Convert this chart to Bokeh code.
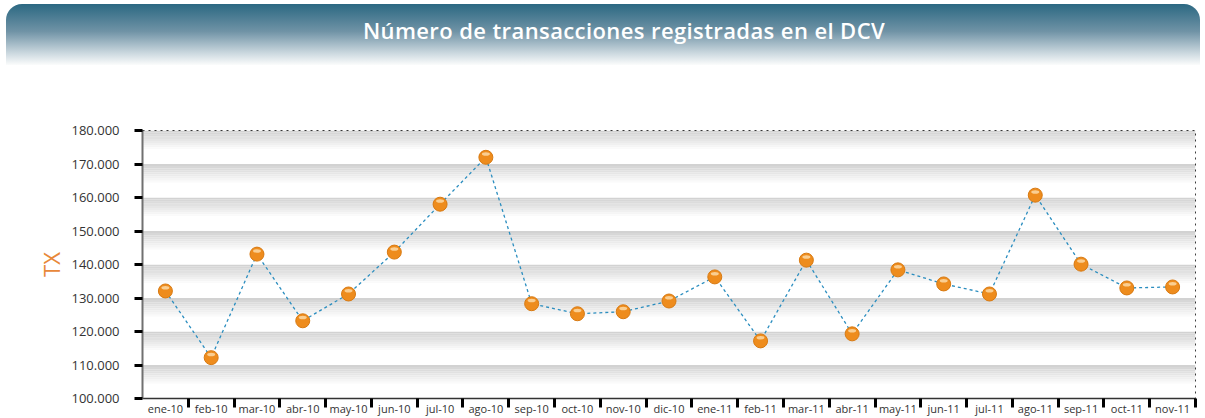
from bokeh.plotting import figure
from bokeh.layouts import column
from bokeh.models import Range1d, FixedTicker, CustomJSTickFormatter, ColumnDataSource, Div
from bokeh.core.properties import value
from bokeh.embed import file_html
from bokeh.resources import INLINE

# ---- data ----
months = ["ene-10", "feb-10", "mar-10", "abr-10", "may-10", "jun-10", "jul-10", "ago-10",
          "sep-10", "oct-10", "nov-10", "dic-10", "ene-11", "feb-11", "mar-11", "abr-11",
          "may-11", "jun-11", "jul-11", "ago-11", "sep-11", "oct-11", "nov-11"]
tx = [132100, 112200, 143100, 123200, 131200, 143700, 158000, 172000,
      128300, 125300, 125900, 129100, 136300, 117200, 141300, 119300,
      138400, 134200, 131200, 160700, 140100, 133000, 133300]
y_ticks = [100000, 110000, 120000, 130000, 140000, 150000, 160000, 170000, 180000]
title_text = "Número de transacciones registradas en el DCV"
y_label = "TX"

FONT = "Open Sans"
W = 1200
CH = 348


def hex2rgb(h):
    h = h.lstrip("#")
    return tuple(int(h[i:i + 2], 16) for i in (0, 2, 4))


def lerp_color(stops, t):
    for (t0, c0), (t1, c1) in zip(stops[:-1], stops[1:]):
        if t <= t1:
            f = 0 if t1 == t0 else (t - t0) / (t1 - t0)
            a, b = hex2rgb(c0), hex2rgb(c1)
            return "#%02x%02x%02x" % tuple(int(round(a[i] + (b[i] - a[i]) * f)) for i in range(3))
    return stops[-1][1]


# ---- banner ----
banner = Div(text=title_text, width=1194, height=61, margin=(4, 0, 5, 6),
             styles={
                 "background": "linear-gradient(180deg, #2b6882 0%, #7093a6 45%, #cad7de 80%, #fbfcfc 100%)",
                 "border-radius": "16px 16px 0 0",
                 "color": "white",
                 "font-family": "Open Sans",
                 "font-size": "22px",
                 "font-weight": "600",
                 "letter-spacing": "0.4px",
                 "text-align": "center",
                 "line-height": "52px",
                 "padding-left": "42px",
                 "box-sizing": "border-box",
             })

# ---- chart ----
n = len(months)
xs = [i + 0.5 for i in range(n)]
p = figure(width=W, height=CH, output_backend="svg", toolbar_location=None,
           x_range=Range1d(0, n), y_range=Range1d(y_ticks[0], y_ticks[-1]),
           min_border_left=142, min_border_right=5, min_border_top=60,
           min_border_bottom=10)
p.background_fill_color = "white"
p.border_fill_color = "white"
p.grid.visible = False
p.outline_line_color = "black"
p.outline_line_dash = "dotted"
p.outline_line_width = 1

# banded gradient background
gstops = [(0.0, "#d2d2d2"), (0.15, "#dddddd"), (0.6, "#ffffff"), (1.0, "#ffffff")]
bl, br, bt, bb, bc = [], [], [], [], []
steps = 16
for lo, hi in zip(y_ticks[:-1], y_ticks[1:]):
    h = (hi - lo) / steps
    for k in range(steps):
        t = k / (steps - 1)
        bl.append(0)
        br.append(n)
        bt.append(hi - k * h)
        bb.append(hi - (k + 1) * h)
        bc.append(lerp_color(gstops, t))
p.quad(left=bl, right=br, top=bt, bottom=bb, fill_color=bc, line_color=None)

src = ColumnDataSource(dict(x=xs, y=tx))
p.line("x", "y", source=src, line_color="#2a8dbf", line_width=1.3, line_dash="3 3")
p.scatter("x", "y", source=src, size=14, fill_color="#ee8c1d", line_color="#d87a12", line_width=1)
px_per_unit = (y_ticks[-1] - y_ticks[0]) / 269.0
p.ellipse(x=xs, y=[v + 3.2 * px_per_unit for v in tx], width=8, height=3.5,
          width_units="screen", height_units="screen", fill_color="#fcd9a6",
          fill_alpha=0.85, line_color=None)

# y axis
ya = p.yaxis[0]
ya.ticker = FixedTicker(ticks=y_ticks)
ya.formatter = CustomJSTickFormatter(code="""
return Math.round(tick).toString().replace(/\\B(?=(\\d{3})+(?!\\d))/g, ".");
""")
ya.axis_line_color = "#707070"
ya.axis_line_width = 2
ya.major_tick_in = 0
ya.major_tick_out = 8
ya.major_tick_line_width = 3
ya.major_tick_line_color = "black"
ya.minor_tick_line_color = None
ya.major_label_standoff = 15
ya.major_label_text_font = FONT
ya.major_label_text_font_size = "13px"
ya.major_label_text_color = "#333333"
ya.axis_label = y_label
ya.axis_label_text_font = FONT
ya.axis_label_text_font_size = "22px"
ya.axis_label_text_font_style = "normal"
ya.axis_label_text_color = "#e8883a"
ya.axis_label_standoff = 2

# x axis
xa = p.xaxis[0]
xa.ticker = FixedTicker(ticks=xs, minor_ticks=list(range(1, n + 1)))
xa.major_label_overrides = {x: m for x, m in zip(xs, months)}
xa.major_tick_line_color = None
xa.major_tick_in = 0
xa.major_tick_out = 0
xa.minor_tick_in = 0
xa.minor_tick_out = 9
xa.minor_tick_line_width = 3
xa.minor_tick_line_color = "black"
xa.axis_line_color = "#333333"
xa.axis_line_width = 1.5
xa.major_label_standoff = -7
xa.major_label_text_font = FONT
xa.major_label_text_font_size = "11px"
xa.major_label_text_color = "#333333"

layout = column(banner, p, spacing=0)
open("out.html", "w").write(file_html(layout, INLINE))
